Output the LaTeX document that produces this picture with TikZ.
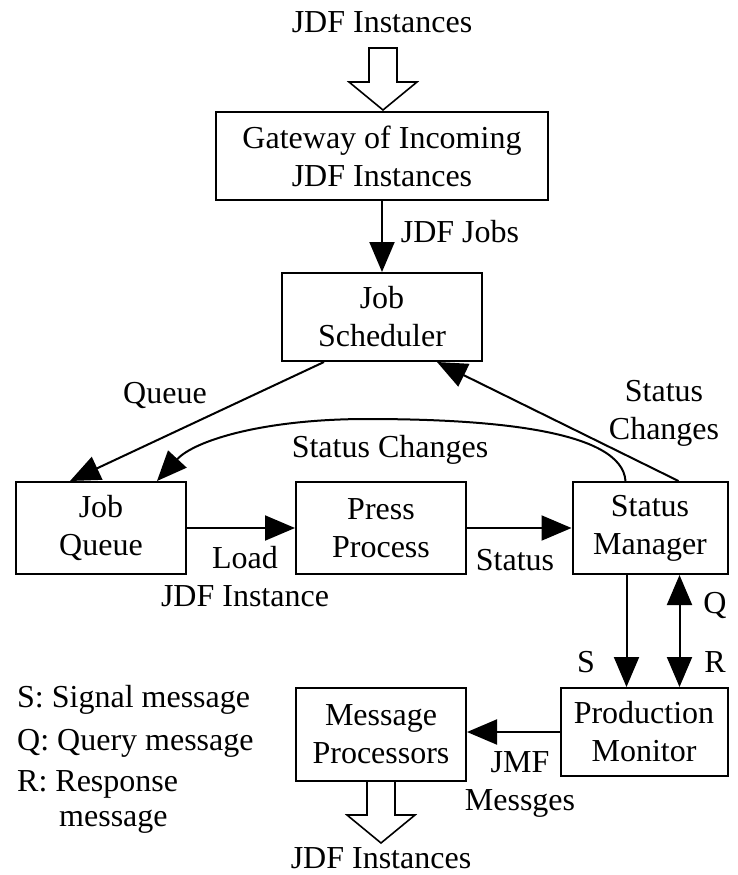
\documentclass[tikz,border=0pt]{standalone}
\usepackage{fontspec}
\setmainfont{Liberation Serif}
\usetikzlibrary{arrows.meta}
\begin{document}
\begin{tikzpicture}[x=1pt,y=-1pt,
 box/.style={draw,line width=2pt,align=center,inner sep=0pt,font=\fontsize{32}{38}\selectfont},
 lbl/.style={font=\fontsize{32}{38}\selectfont,inner sep=0pt,align=center},
 legend/.style={font=\fontsize{32}{40}\selectfont,inner sep=0pt,anchor=west,align=left},
 arr/.style={line width=2pt,-{Triangle[length=30pt,width=25pt]}},
 darr/.style={line width=2pt,{Triangle[length=30pt,width=25pt]}-{Triangle[length=30pt,width=25pt]}},
 hollow/.style={draw,line width=1.6pt,fill=white,line join=miter}]
\useasboundingbox (0,0) rectangle (738,875);

% boxes
\node[box,minimum width=332pt,minimum height=88pt] (gw) at (382,156) {Gateway of Incoming\\JDF Instances};
\node[box,minimum width=200pt,minimum height=88pt] (js) at (382,317) {Job\\Scheduler};
\node[box,minimum width=170pt,minimum height=92pt] (jq) at (101,528) {Job\\Queue};
\node[box,minimum width=170pt,minimum height=92pt] (pp) at (381,528) {Press\\Process};
\node[box,minimum width=155pt,minimum height=92pt] (sm) at (650,528) {Status\\Manager};
\node[box,minimum width=167pt,minimum height=88pt] (pm) at (644,732) {Production\\Monitor};
\node[box,minimum width=170pt,minimum height=93pt] (mp) at (381,734) {Message\\Processors};

% top/bottom labels
\node[lbl] (tin) at (382,22) {JDF Instances};
\node[lbl] (tout) at (381,858) {JDF Instances};

% hollow arrows
\draw[hollow] (369,48) -- (397,48) -- (397,82) -- (417,82) -- (383,110) -- (349,82) -- (369,82) -- cycle;
\draw[hollow] (367,781) -- (395,781) -- (395,815) -- (415,815) -- (381,843) -- (347,815) -- (367,815) -- cycle;

% connectors
\draw[arr] (gw) -- (js);
\draw[arr] ([xshift=43pt]js.south west) -- ([xshift=55pt]jq.north west);
\draw[arr] ([xshift=107pt]sm.north west) -- ([xshift=156pt]js.south west);
\draw[arr] ([xshift=54pt]sm.north west) .. controls (622,430) and (490,419) .. (367,419)
   .. controls (265,419) and (195,440) .. ([xshift=142pt]jq.north west);
\draw[arr] (jq.east) -- (pp.west);
\draw[arr] (pp.east) -- (sm.west);
\draw[arr] ([xshift=55pt]sm.south west) -- ([xshift=67pt]pm.north west);
\draw[darr] ([xshift=108pt]sm.south west) -- ([xshift=120pt]pm.north west);
\draw[arr] (pm.west) -- (pm.west -| mp.east);

% connector labels
\node[lbl] (ljobs) at (460,232) {JDF Jobs};
\node[lbl] (lqueue) at (165,395) {Queue};
\node[lbl] (lsc1) at (664,413) {Status\\Changes};
\node[lbl] (lsc2) at (390,450) {Status Changes};
\node[lbl] (lload) at (245,577) {Load\\JDF Instance};
\node[lbl] (lstatus) at (515,560) {Status};
\node[lbl] (ls) at (586,662) {S};
\node[lbl] (lq) at (715,605) {Q};
\node[lbl] (lr) at (715,662) {R};
\node[lbl] (ljmf) at (520,784) {JMF\\Messges};

% legend
\node[legend] (leg1) at (17,700) {S: Signal message};
\node[legend] (leg2) at (17,743) {Q: Query message};
\node[legend] (leg3) at (17,784) {R: Response};
\node[legend] (leg4) at (59,822) {message};
\end{tikzpicture}
\end{document}
